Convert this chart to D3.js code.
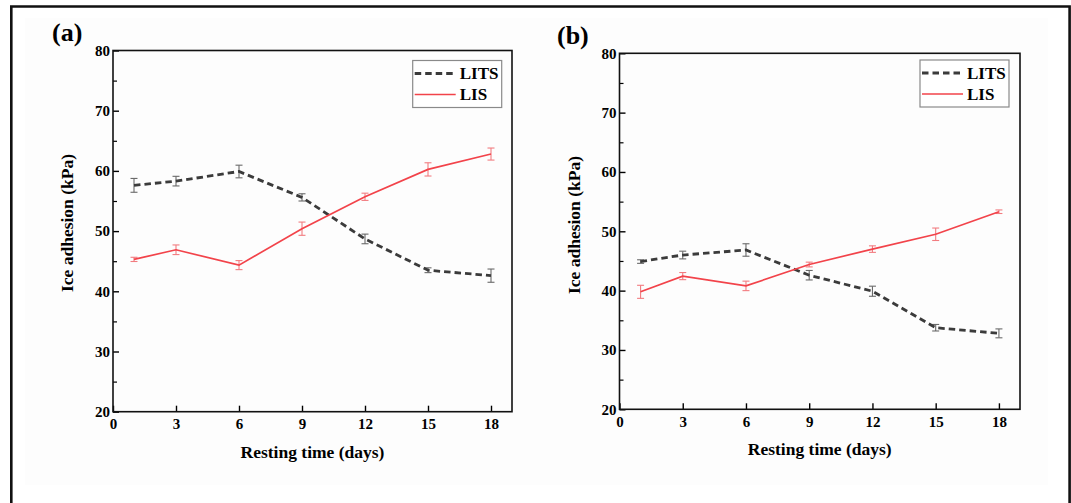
<!DOCTYPE html>
<html>
<head>
<meta charset="utf-8">
<script src="https://cdn.jsdelivr.net/npm/d3@7"></script>
<style>
  body { margin: 0; background: #fff; }
  svg text { font-family: "Liberation Serif", "Times New Roman", serif; font-weight: bold; fill: #000; }
</style>
</head>
<body>
<div id="vis"></div>
<script>
// Data
var days = [1, 3, 6, 9, 12, 15, 18];

var litsA    = [57.6, 58.3, 59.9, 55.6, 48.7, 43.5, 42.6];
var litsAErr = [1.15, 0.8, 1.05, 0.6, 0.8, 0.4, 1.1];
var lisA     = [45.3, 46.9, 44.35, 50.4, 55.7, 60.25, 62.8];
var lisAErr  = [0.35, 0.8, 0.75, 1.1, 0.6, 1.1, 1.0];

var litsB    = [44.9, 46.0, 46.85, 42.6, 39.9, 33.75, 32.8];
var litsBErr = [0.3, 0.65, 1.05, 0.8, 0.85, 0.55, 0.75];
var lisB     = [39.8, 42.45, 40.8, 44.4, 47.0, 49.5, 53.3];
var lisBErr  = [1.1, 0.6, 0.8, 0.4, 0.55, 1.05, 0.3];

var xTicks = [0, 3, 6, 9, 12, 15, 18];
var yTicks = [20, 30, 40, 50, 60, 70, 80];
var yMinorTicks = [25, 35, 45, 55, 65, 75];
var seriesNames = ["LITS", "LIS"];

(function() {
    var width = 1071, height = 503;

    var svg = d3.select("#vis").append("svg")
        .attr("width", width)
        .attr("height", height);

    // faint paper background and outer frame
    svg.append("rect").attr("x", 25).attr("y", 18).attr("width", 1023).attr("height", 467)
        .attr("fill", "#fdfdfd");
    svg.append("path")
        .attr("d", "M11.3,503 V6.5 H1069.6 V503")
        .attr("fill", "none").attr("stroke", "#111").attr("stroke-width", 2.6);

    var colors = { LITS: "#3b3b3b", LIS: "#f2434a" };
    var errColors = { LITS: "#6a6a6a", LIS: "#f27c80" };

    function drawPanel(p) {
        var x = d3.scaleLinear().domain([0, 19]).range([p.left, p.right]);
        var y = d3.scaleLinear().domain([20, 80]).range([p.bottom, p.top]);
        var g = svg.append("g");

        // minor y ticks
        g.append("g")
            .attr("transform", "translate(" + p.left + ",0)")
            .call(d3.axisLeft(y).tickValues(yMinorTicks).tickSize(-4).tickFormat(""))
            .call(function(s) { s.select(".domain").remove(); s.selectAll("line").attr("stroke-width", 1.2); });

        // y axis
        var ya = g.append("g")
            .attr("transform", "translate(" + p.left + ",0)")
            .call(d3.axisLeft(y).tickValues(yTicks).tickSize(-6).tickPadding(3).tickSizeOuter(0));
        ya.select(".domain").remove();
        ya.selectAll("line").attr("stroke-width", 1.4);
        ya.selectAll("text").style("font-size", "15px").style("font-family", null);

        // x axis
        var xa = g.append("g")
            .attr("transform", "translate(0," + p.bottom + ")")
            .call(d3.axisBottom(x).tickValues(xTicks).tickSize(-6).tickPadding(7).tickSizeOuter(0));
        xa.select(".domain").remove();
        xa.selectAll("line").attr("stroke-width", 1.4);
        xa.selectAll("text").style("font-size", "15px").style("font-family", null);

        // plot frame
        g.append("rect")
            .attr("x", p.left).attr("y", p.top)
            .attr("width", p.right - p.left).attr("height", p.bottom - p.top)
            .attr("fill", "none").attr("stroke", "#111").attr("stroke-width", 1.6);

        var line = d3.line()
            .x(function(d) { return x(d[0]); })
            .y(function(d) { return y(d[1]); });

        p.series.forEach(function(s) {
            var pts = days.map(function(d, i) { return [d, s.values[i], s.err[i]]; });

            // error bars
            var eb = g.append("g").attr("stroke", errColors[s.name]).attr("stroke-width", 1.1);
            pts.forEach(function(d) {
                var cx = x(d[0]), y1 = y(d[1] - d[2]), y2 = y(d[1] + d[2]);
                eb.append("line").attr("x1", cx).attr("x2", cx).attr("y1", y1).attr("y2", y2);
                eb.append("line").attr("x1", cx - 3.5).attr("x2", cx + 3.5).attr("y1", y1).attr("y2", y1);
                eb.append("line").attr("x1", cx - 3.5).attr("x2", cx + 3.5).attr("y1", y2).attr("y2", y2);
            });

            g.append("path")
                .datum(pts)
                .attr("fill", "none")
                .attr("stroke", colors[s.name])
                .attr("stroke-width", s.name === "LITS" ? 2.8 : 1.7)
                .attr("stroke-dasharray", s.name === "LITS" ? "6.5,4" : null)
                .attr("d", line);
        });

        // legend
        var lg = g.append("g").attr("transform", "translate(" + p.legX + "," + p.legY + ")");
        lg.append("rect").attr("width", 89).attr("height", 47)
            .attr("fill", "#fff").attr("stroke", "#8a8a8a").attr("stroke-width", 1.2);
        seriesNames.forEach(function(n, i) {
            var ly = 13 + i * 21;
            lg.append("line")
                .attr("x1", 2).attr("x2", 43).attr("y1", ly).attr("y2", ly)
                .attr("stroke", colors[n])
                .attr("stroke-width", n === "LITS" ? 2.8 : 1.7)
                .attr("stroke-dasharray", n === "LITS" ? "6.5,4" : null);
            lg.append("text").attr("x", 47).attr("y", ly).attr("dy", "0.35em")
                .style("font-size", "17px").text(n);
        });

        // axis titles
        g.append("text")
            .attr("x", (p.left + p.right) / 2).attr("y", p.xTitleY)
            .attr("text-anchor", "middle").attr("dy", "0.35em")
            .style("font-size", "17.5px")
            .text("Resting time (days)");
        g.append("text")
            .attr("transform", "translate(" + p.yTitleX + "," + p.yTitleY + ") rotate(-90)")
            .attr("text-anchor", "middle").attr("dy", "0.35em")
            .style("font-size", "17.5px")
            .text("Ice adhesion (kPa)");

        // panel label
        g.append("text")
            .attr("x", p.labX).attr("y", p.labY)
            .style("font-size", "26px")
            .text(p.label);
    }

    drawPanel({
        left: 113, right: 512, top: 50.5, bottom: 411.7,
        legX: 412.7, legY: 60.5,
        xTitleY: 451.7, yTitleX: 67, yTitleY: 223,
        labX: 52, labY: 41, label: "(a)",
        series: [
            { name: "LITS", values: litsA, err: litsAErr },
            { name: "LIS", values: lisA, err: lisAErr }
        ]
    });

    drawPanel({
        left: 619.5, right: 1020, top: 53.3, bottom: 409.3,
        legX: 920, legY: 60,
        xTitleY: 449, yTitleX: 574, yTitleY: 225,
        labX: 557, labY: 44, label: "(b)",
        series: [
            { name: "LITS", values: litsB, err: litsBErr },
            { name: "LIS", values: lisB, err: lisBErr }
        ]
    });
})();
</script>
</body>
</html>
